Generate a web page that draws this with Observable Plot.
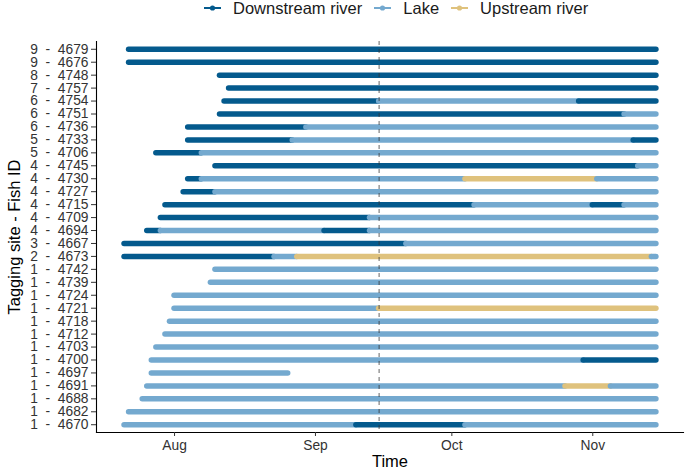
<!DOCTYPE html>
<html>
<head>
<meta charset="utf-8">
<script src="https://cdn.jsdelivr.net/npm/d3@7"></script>
<script src="https://cdn.jsdelivr.net/npm/@observablehq/plot@0.6"></script>
<style>
  body { margin: 0; background: #fff; font-family: "Liberation Sans", Arial, sans-serif; }
  #wrap { position: relative; width: 685px; height: 468px; overflow: hidden; }
  #legend { position: absolute; top: 0; left: 203px; height: 16px; line-height: 16px; display: flex; align-items: center; font-size: 16.5px; color: #1a1a1a; white-space: nowrap; z-index: 2; }
  #legend .item { display: flex; align-items: center; margin-right: 11px; }
  #legend svg { margin-right: 11px; }
  [aria-label="y-axis label"], [aria-label="x-axis label"] { font-size: 16.5px; fill: #000; }
</style>
</head>
<body>
<div id="wrap"><div id="legend"></div></div>
<script>
// ---- data ----
const YEAR = "2021";
const states = ["Downstream river", "Lake", "Upstream river"];
const stateColors = ["#045a8d", "#74a9cf", "#dfc27d"];
const fishLabels = [
  "9 - 4679", "9 - 4676", "8 - 4748", "7 - 4757", "6 - 4754", "6 - 4751", "6 - 4736",
  "5 - 4733", "5 - 4706", "4 - 4745", "4 - 4730", "4 - 4727", "4 - 4715", "4 - 4709",
  "4 - 4694", "3 - 4667", "2 - 4673", "1 - 4742", "1 - 4739", "1 - 4724", "1 - 4721",
  "1 - 4718", "1 - 4712", "1 - 4703", "1 - 4700", "1 - 4697", "1 - 4691", "1 - 4688",
  "1 - 4682", "1 - 4670"
];
const tickMonths = ["08-01", "09-01", "10-01", "11-01"];
const markerDate = "09-15";
const xDomain = ["07-14T20:00", "11-20T23:00"];

// segments: fish, state (D/L/U), start, end (month-day)
const segFish  = [
  "9 - 4679", "9 - 4676", "8 - 4748", "7 - 4757",
  "6 - 4754", "6 - 4754", "6 - 4754",
  "6 - 4751", "6 - 4751",
  "6 - 4736", "6 - 4736",
  "5 - 4733", "5 - 4733", "5 - 4733",
  "5 - 4706", "5 - 4706",
  "4 - 4745", "4 - 4745",
  "4 - 4730", "4 - 4730", "4 - 4730", "4 - 4730",
  "4 - 4727", "4 - 4727",
  "4 - 4715", "4 - 4715", "4 - 4715", "4 - 4715",
  "4 - 4709", "4 - 4709",
  "4 - 4694", "4 - 4694", "4 - 4694", "4 - 4694",
  "3 - 4667", "3 - 4667",
  "2 - 4673", "2 - 4673", "2 - 4673", "2 - 4673",
  "1 - 4742", "1 - 4739", "1 - 4724",
  "1 - 4721", "1 - 4721",
  "1 - 4718", "1 - 4712", "1 - 4703",
  "1 - 4700", "1 - 4700",
  "1 - 4697",
  "1 - 4691", "1 - 4691", "1 - 4691",
  "1 - 4688", "1 - 4682",
  "1 - 4670", "1 - 4670", "1 - 4670"
];
const segState = [
  "D", "D", "D", "D",
  "D", "L", "D",
  "D", "L",
  "D", "L",
  "D", "L", "D",
  "D", "L",
  "D", "L",
  "D", "L", "U", "L",
  "D", "L",
  "D", "L", "D", "L",
  "D", "L",
  "D", "L", "D", "L",
  "D", "L",
  "D", "L", "U", "L",
  "L", "L", "L",
  "L", "U",
  "L", "L", "L",
  "L", "D",
  "L",
  "L", "U", "L",
  "L", "L",
  "L", "D", "L"
];
const segStart = [
  "07-22", "07-22", "08-11", "08-13",
  "08-12", "09-15", "10-29",
  "08-11", "11-08",
  "08-04", "08-30",
  "08-04", "08-27", "11-10",
  "07-28", "08-07",
  "08-10", "11-11",
  "08-04", "08-07", "10-04", "11-02",
  "08-03", "08-10",
  "07-30", "10-06", "11-01", "11-08",
  "07-29", "09-13",
  "07-26", "07-29", "09-03", "09-13",
  "07-21", "09-21",
  "07-21", "08-23", "08-28", "11-14",
  "08-10", "08-09", "08-01",
  "08-01", "09-15",
  "07-31", "07-30", "07-28",
  "07-27", "10-30",
  "07-27",
  "07-26", "10-26", "11-05",
  "07-25", "07-22",
  "07-21", "09-10", "10-04"
];
const segEnd = [
  "11-15", "11-15", "11-15", "11-15",
  "09-15", "10-29", "11-15",
  "11-08", "11-15",
  "08-30", "11-15",
  "08-27", "11-10", "11-15",
  "08-07", "11-15",
  "11-11", "11-15",
  "08-07", "10-04", "11-02", "11-15",
  "08-10", "11-15",
  "10-06", "11-01", "11-08", "11-15",
  "09-13", "11-15",
  "07-29", "09-03", "09-13", "11-15",
  "09-21", "11-15",
  "08-23", "08-28", "11-14", "11-15",
  "11-15", "11-15", "11-15",
  "09-15", "11-15",
  "11-15", "11-15", "11-15",
  "10-30", "11-15",
  "08-26",
  "10-26", "11-05", "11-15",
  "11-15", "11-15",
  "09-10", "10-04", "11-15"
];

// ---- build ----
const stateName = {D: states[0], L: states[1], U: states[2]};
const toDate = s => new Date(`${YEAR}-${s}${s.includes("T") ? ":00Z" : "T00:00:00Z"}`);
const segments = segFish.map((f, i) => ({
  fish: f, state: stateName[segState[i]], start: toDate(segStart[i]), end: toDate(segEnd[i])
}));

const chart = Plot.plot({
  width: 685,
  height: 468,
  marginTop: 41,
  marginBottom: 36,
  marginLeft: 96,
  marginRight: 2,
  style: { fontFamily: "Liberation Sans, Arial, sans-serif", fontSize: "13.8px", background: "#fff", color: "#333", overflow: "visible" },
  x: { type: "utc", domain: xDomain.map(toDate) },
  y: { type: "point", domain: fishLabels, padding: 0.6, round: false },
  color: { domain: states, range: stateColors },
  marks: [
    Plot.ruleY(segments, { y: "fish", x1: "start", x2: "end", stroke: "state", strokeWidth: 5.5, strokeLinecap: "round" }),
    Plot.ruleX([toDate(markerDate)], { stroke: "#333", strokeOpacity: 0.75, strokeWidth: 1, strokeDasharray: "4,4" }),
    Plot.frame({ anchor: "left", stroke: "#000", strokeWidth: 1.1 }),
    Plot.frame({ anchor: "bottom", stroke: "#000", strokeWidth: 1.1 }),
    Plot.axisX({
      ticks: tickMonths.map(toDate), tickFormat: d3.utcFormat("%b"),
      tickSize: 4, tickPadding: 4, color: "#333",
      label: "Time", labelAnchor: "center", labelArrow: "none", labelOffset: 34
    }),
    Plot.axisY({
      tickSize: 5, tickPadding: 3, color: "#333",
      tickFormat: d => d.replace(" - ", "\u00a0 -\u00a0 "),
      label: "Tagging site - Fish ID", labelAnchor: "center", labelArrow: "none", labelOffset: 88
    })
  ]
});
document.getElementById("wrap").appendChild(chart);

// legend
const legend = document.getElementById("legend");
states.forEach((s, i) => {
  const item = document.createElement("div");
  item.className = "item";
  item.innerHTML = `<svg width="19" height="8"><line x1="1" x2="18" y1="4" y2="4" stroke="${stateColors[i]}" stroke-width="2"/><circle cx="9.5" cy="4" r="2.6" fill="${stateColors[i]}"/></svg><span>${s}</span>`;
  legend.appendChild(item);
});
</script>
</body>
</html>
